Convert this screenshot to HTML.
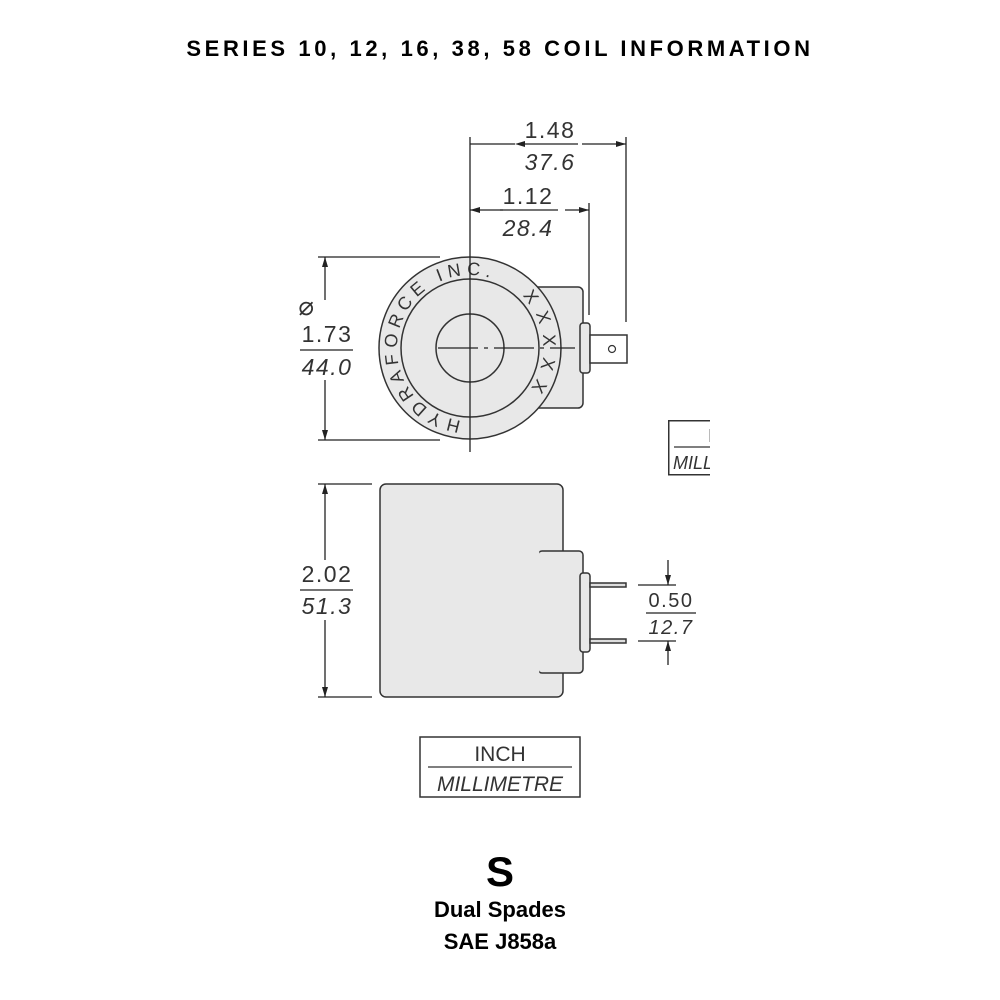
<!DOCTYPE html>
<html><head><style>
body{margin:0;background:#fff;}
svg{display:block}
text{font-family:"Liberation Sans",sans-serif;}
</style></head><body>
<svg width="1000" height="1000" viewBox="0 0 1000 1000" xmlns="http://www.w3.org/2000/svg">
<defs>
<marker id="a" viewBox="0 0 10 6" refX="10" refY="3" markerWidth="10" markerHeight="6" markerUnits="userSpaceOnUse" orient="auto"><path d="M0,0L10,3L0,6z" fill="#222"/></marker>
<path id="cp" d="M461,420.5 A73,73 0 1 1 479,420.5"/>
<path id="cp2" d="M522,296 A73,73 0 0 1 520,401"/>
</defs>
<text x="500" y="56" text-anchor="middle" font-size="22" font-weight="bold" letter-spacing="3.6">SERIES 10, 12, 16, 38, 58 COIL INFORMATION</text>

<g stroke="#333" stroke-width="1.5" fill="#e8e8e8">
<rect x="500" y="287" width="83" height="121" rx="5"/>
<rect x="580" y="323" width="10" height="50" rx="3"/>
<rect x="590" y="335" width="37" height="28" fill="#fff"/>
<circle cx="470" cy="348" r="91"/>
<circle cx="470" cy="348" r="69"/>
<circle cx="470" cy="348" r="34"/>
<circle cx="612" cy="349" r="3.5" fill="#fff" stroke-width="1.2"/>
</g>
<text font-size="18" fill="#333" letter-spacing="5.2"><textPath href="#cp">HYDRAFORCE  INC.</textPath></text>
<text font-size="18" fill="#333" letter-spacing="10"><textPath href="#cp2">XXXXX</textPath></text>

<g stroke="#222" stroke-width="1.3" fill="none">
<line x1="470" y1="137" x2="470" y2="452"/>
<line x1="438" y1="348" x2="575" y2="348" stroke-dasharray="40,6,4,6"/>
<line x1="626" y1="137" x2="626" y2="322"/>
<line x1="589" y1="203" x2="589" y2="315"/>
<line x1="470" y1="144" x2="515" y2="144" marker-start="url(#a)" transform="rotate(180 492.5 144)"/>
<line x1="582" y1="144" x2="626" y2="144" marker-end="url(#a)"/>
<line x1="470" y1="210" x2="503" y2="210" transform="rotate(180 486.5 210)" marker-end="url(#a)"/>
<line x1="565" y1="210" x2="589" y2="210" marker-end="url(#a)"/>
<line x1="318" y1="257" x2="440" y2="257"/>
<line x1="318" y1="440" x2="440" y2="440"/>
<line x1="325" y1="300" x2="325" y2="257" marker-end="url(#a)"/>
<line x1="325" y1="380" x2="325" y2="440" marker-end="url(#a)"/>
<line x1="523" y1="144" x2="578" y2="144"/>
<line x1="500" y1="210" x2="558" y2="210"/>
<line x1="300" y1="350" x2="353" y2="350"/>
</g>
<g font-size="23" fill="#333" font-style="italic" text-anchor="middle" letter-spacing="1.5">
<text x="550" y="138" font-style="normal">1.48</text>
<text x="550" y="170">37.6</text>
<text x="528" y="204" font-style="normal">1.12</text>
<text x="528" y="236">28.4</text>
<text x="307" y="315" font-style="normal" font-size="26">⌀</text>
<text x="327" y="342" font-style="normal">1.73</text>
<text x="327" y="375">44.0</text>
</g>

<g stroke="#333" stroke-width="1.5" fill="#e8e8e8">
<rect x="380" y="484" width="183" height="213" rx="6"/>
<rect x="538" y="551" width="45" height="122" rx="4"/>
<rect x="580" y="573" width="10" height="79" rx="3"/>
</g>
<line x1="538" y1="551" x2="538" y2="673" stroke="#e8e8e8" stroke-width="2.5"/>
<g stroke="#333" stroke-width="1.5" fill="#ddd">
<rect x="590" y="583" width="36" height="4"/>
<rect x="590" y="639" width="36" height="4"/>
</g>
<g stroke="#222" stroke-width="1.3" fill="none">
<line x1="318" y1="484" x2="372" y2="484"/>
<line x1="318" y1="697" x2="372" y2="697"/>
<line x1="325" y1="560" x2="325" y2="484" marker-end="url(#a)"/>
<line x1="325" y1="620" x2="325" y2="697" marker-end="url(#a)"/>
<line x1="300" y1="590" x2="353" y2="590"/>
<line x1="638" y1="585" x2="676" y2="585"/>
<line x1="638" y1="641" x2="676" y2="641"/>
<line x1="668" y1="560" x2="668" y2="585" marker-end="url(#a)"/>
<line x1="668" y1="665" x2="668" y2="641" marker-end="url(#a)"/>
<line x1="646" y1="613" x2="696" y2="613"/>
</g>
<g font-size="23" fill="#333" font-style="italic" text-anchor="middle" letter-spacing="1.5">
<text x="327" y="582" font-style="normal">2.02</text>
<text x="327" y="614">51.3</text>
<text x="671" y="607" font-style="normal" font-size="20">0.50</text>
<text x="671" y="634" font-size="20">12.7</text>
</g>

<rect x="420" y="737" width="160" height="60" fill="none" stroke="#333" stroke-width="1.5"/>
<line x1="428" y1="767" x2="572" y2="767" stroke="#333" stroke-width="1.3"/>
<text x="500" y="761" font-size="21" fill="#333" text-anchor="middle">INCH</text>
<text x="500" y="791" font-size="21" fill="#333" text-anchor="middle" font-style="italic">MILLIMETRE</text>

<svg x="668" y="420" width="42" height="56" overflow="hidden">
<rect x="0.75" y="0.75" width="160" height="54" fill="none" stroke="#333" stroke-width="1.5"/>
<line x1="6" y1="27" x2="150" y2="27" stroke="#333" stroke-width="1.2"/>
<text x="40" y="22" font-size="18" fill="#333">I</text>
<text x="5" y="49" font-size="18" fill="#333" font-style="italic">MILLIMETRE</text>
</svg>

<text x="500" y="886" font-size="42" font-weight="bold" text-anchor="middle">S</text>
<text x="500" y="917" font-size="22" font-weight="bold" text-anchor="middle">Dual Spades</text>
<text x="500" y="949" font-size="22" font-weight="bold" text-anchor="middle">SAE J858a</text>
</svg>
</body></html>
